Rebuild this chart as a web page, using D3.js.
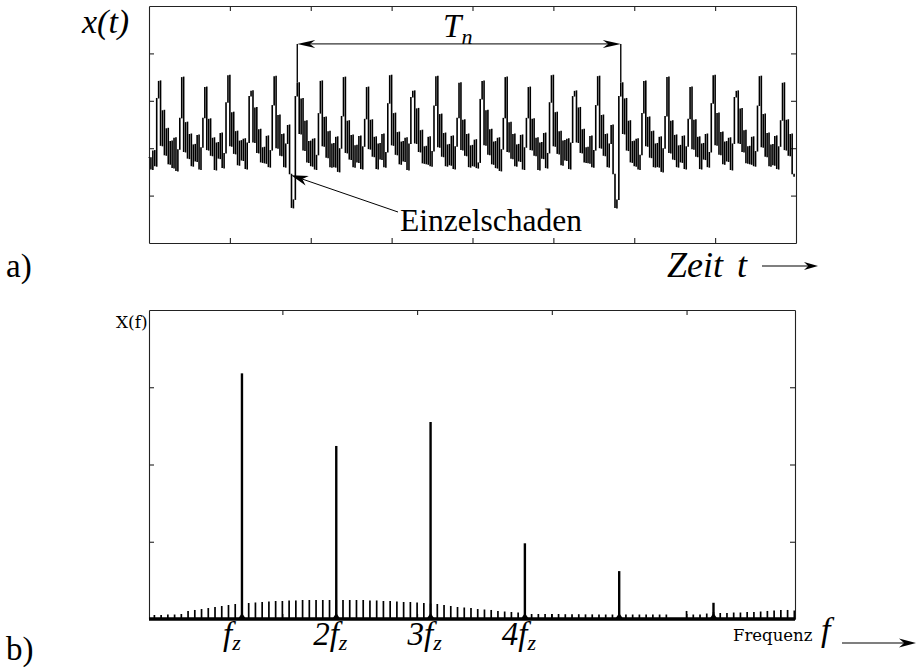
<!DOCTYPE html>
<html>
<head>
<meta charset="utf-8">
<script src="https://cdn.jsdelivr.net/npm/d3@7"></script>
<style>
body { margin: 0; background: #fff; }
</style>
</head>
<body>
<script>
// ---- data ----
// a) time signal, 12 samples per impact period (28 impacts), amplitude in axis units 0..5
let signal = [
	1.80, 1.55, 1.95, 1.62, 3.06, 3.42, 2.05, 2.80, 1.85, 2.42, 1.66, 2.15,
	1.58, 2.22, 1.52, 1.98, 2.64, 3.50, 1.92, 2.55, 1.78, 2.30, 1.62, 2.08,
	1.72, 2.28, 1.55, 2.02, 2.64, 3.29, 1.96, 2.62, 1.84, 2.22, 1.54, 2.12,
	1.78, 2.32, 1.58, 1.90, 2.97, 3.54, 2.04, 2.76, 1.88, 2.36, 1.64, 2.16,
	1.74, 2.20, 1.56, 2.12, 3.10, 3.21, 2.12, 2.86, 1.90, 2.40, 1.70, 2.02,
	1.68, 2.26, 1.60, 1.96, 2.91, 3.52, 2.00, 2.70, 1.84, 2.30, 1.60, 2.10,
	2.49, 1.45, 0.74, 0.92, 3.10, 3.38, 2.30, 3.05, 1.95, 2.58, 1.70, 2.15,
	1.62, 2.20, 1.55, 1.86, 2.74, 3.42, 2.04, 2.66, 1.80, 2.36, 1.60, 2.10,
	1.60, 2.24, 1.50, 2.00, 2.68, 3.50, 1.90, 2.58, 1.76, 2.28, 1.60, 2.06,
	1.70, 2.26, 1.56, 2.04, 2.62, 3.29, 1.98, 2.60, 1.82, 2.24, 1.56, 2.10,
	1.76, 2.30, 1.60, 1.92, 2.95, 3.54, 2.06, 2.74, 1.86, 2.34, 1.66, 2.14,
	1.72, 2.22, 1.54, 2.10, 3.08, 3.21, 2.10, 2.84, 1.92, 2.38, 1.68, 2.04,
	1.66, 2.24, 1.62, 1.94, 2.90, 3.52, 2.02, 2.72, 1.82, 2.32, 1.62, 2.08,
	1.64, 2.26, 1.56, 2.04, 2.64, 3.38, 1.96, 2.60, 1.84, 2.30, 1.60, 2.06,
	1.62, 2.18, 1.58, 1.70, 3.04, 3.42, 2.06, 2.80, 1.86, 2.40, 1.66, 2.14,
	1.58, 2.22, 1.52, 1.98, 2.64, 3.50, 1.92, 2.55, 1.78, 2.30, 1.62, 2.08,
	1.72, 2.28, 1.55, 2.02, 2.64, 3.29, 1.96, 2.62, 1.84, 2.22, 1.54, 2.12,
	1.78, 2.32, 1.58, 1.90, 2.97, 3.54, 2.04, 2.76, 1.88, 2.36, 1.64, 2.16,
	1.74, 2.20, 1.56, 2.12, 3.10, 3.21, 2.12, 2.86, 1.90, 2.40, 1.70, 2.02,
	1.68, 2.26, 1.60, 1.96, 2.91, 3.52, 2.00, 2.70, 1.84, 2.30, 1.60, 2.10,
	2.49, 1.45, 0.74, 0.92, 3.10, 3.38, 2.30, 3.05, 1.95, 2.58, 1.70, 2.15,
	1.62, 2.20, 1.55, 1.86, 2.74, 3.42, 2.04, 2.66, 1.80, 2.36, 1.60, 2.10,
	1.60, 2.24, 1.50, 2.00, 2.68, 3.50, 1.90, 2.58, 1.76, 2.28, 1.60, 2.06,
	1.70, 2.26, 1.56, 2.04, 2.62, 3.29, 1.98, 2.60, 1.82, 2.24, 1.56, 2.10,
	1.76, 2.30, 1.60, 1.92, 2.95, 3.54, 2.06, 2.74, 1.86, 2.34, 1.66, 2.14,
	1.72, 2.22, 1.54, 2.10, 3.08, 3.21, 2.10, 2.84, 1.92, 2.38, 1.68, 2.04,
	1.66, 2.24, 1.62, 1.94, 2.90, 3.52, 2.02, 2.72, 1.82, 2.32, 1.62, 2.08,
	1.64, 2.26, 1.56, 2.04, 2.59, 3.38, 1.96, 2.60, 1.84, 2.30, 1.45, 1.40
];
let tnSamples = [77, 245];      // impacts marked by T_n
let tnLevel = 4.2;              // height of the T_n arrow
let damageSample = 73.8;        // tip of the "Einzelschaden" arrow
let damageLevel = 1.43;

// b) spectrum: comb at multiples of f_n (1..96), harmonics of f_z = 14 f_n
let combMag = [
	0.052, 0.052, 0.058, 0.058, 0.065, 0.104, 0.117, 0.129, 0.142, 0.155, 0.168, 0.181,
	0.194, 0.207, 0.207, 0.214, 0.220, 0.227, 0.233, 0.233, 0.240, 0.240, 0.246, 0.246,
	0.246, 0.246, 0.246, 0.246, 0.246, 0.246, 0.246, 0.246, 0.240, 0.240, 0.233, 0.233,
	0.227, 0.220, 0.220, 0.214, 0.207, 0.200, 0.194, 0.181, 0.168, 0.155, 0.149, 0.142,
	0.129, 0.123, 0.117, 0.104, 0.097, 0.091, 0.084, 0.078, 0.065, 0.065, 0.065, 0.065,
	0.065, 0.062, 0.062, 0.062, 0.060, 0.060, 0.058, 0.058, 0.058, 0.060, 0.058, 0.058,
	0.058, 0.058, 0.058, 0.058, 0.058, 0.000, 0.000, 0.104, 0.058, 0.058, 0.071, 0.090,
	0.078, 0.078, 0.084, 0.084, 0.091, 0.091, 0.097, 0.104, 0.110, 0.117, 0.117, 0.110
];
let harmF = [14, 28, 42, 56, 70, 84];
let harmMag = [3.18, 2.24, 2.55, 0.98, 0.62, 0.21];
let harmLabels = ['', '2', '3', '4'];

let timeTicks = [42, 84, 126, 168, 210, 252, 294];
let ampTicks = [1, 2, 3, 4];
let freqTicks = [20, 40, 60, 80];
let magTicks = [1, 2, 3];

let serif = 'Liberation Serif, Times New Roman, serif';
let serif2 = 'DejaVu Serif, serif';

let svg = d3.select('body').append('svg')
	.attr('width', 917)
	.attr('height', 668);

// arrow head helper (barbed, filled)
function arrowHead(g, x, y, angle, len, half) {
	let c = Math.cos(angle), s = Math.sin(angle);
	let pts = [[0, 0], [-len, -half], [-len * 0.7, 0], [-len, half]];
	g.append('path')
		.attr('d', 'M' + pts.map(function(p) {
			return [x + p[0] * c - p[1] * s, y + p[0] * s + p[1] * c].join(',');
		}).join('L') + 'Z')
		.attr('fill', '#000');
}

// box with inward ticks on four sides
function drawFrame(g, x, y, xt, yt) {
	let r = x.range(), b = y.range();
	g.append('g').attr('transform', 'translate(0,' + b[0] + ')')
		.call(d3.axisBottom(x).tickValues(xt).tickSize(-5).tickSizeOuter(0).tickFormat(''));
	g.append('g').attr('transform', 'translate(0,' + b[1] + ')')
		.call(d3.axisTop(x).tickValues(xt).tickSize(-5).tickSizeOuter(0).tickFormat(''));
	g.append('g').attr('transform', 'translate(' + r[0] + ',0)')
		.call(d3.axisLeft(y).tickValues(yt).tickSize(-5).tickSizeOuter(0).tickFormat(''));
	g.append('g').attr('transform', 'translate(' + r[1] + ',0)')
		.call(d3.axisRight(y).tickValues(yt).tickSize(-5).tickSizeOuter(0).tickFormat(''));
	g.selectAll('.domain, .tick line').attr('stroke', '#222').attr('stroke-width', 1.1);
}

///// a) time signal /////
let xT = d3.scaleLinear().domain([0, 336]).range([149, 796]);
let yT = d3.scaleLinear().domain([0, 5]).range([243, 6]);

let topG = svg.append('g');
drawFrame(topG, xT, yT, timeTicks, ampTicks);

// signal drawn as vertical strokes from the previous sample to the current one
topG.append('g')
	.selectAll('line')
	.data(signal)
	.enter()
	.append('line')
	.attr('x1', function(d, i) { return xT(i); })
	.attr('x2', function(d, i) { return xT(i); })
	.attr('y1', function(d, i) { return yT(i > 0 ? signal[i - 1] : d) + (i > 0 && signal[i - 1] < d ? 0.5 : -0.5); })
	.attr('y2', function(d) { return yT(d); })
	.attr('stroke', '#000')
	.attr('stroke-width', 1.6);

// T_n marker
tnSamples.forEach(function(s) {
	topG.append('line')
		.attr('x1', xT(s)).attr('x2', xT(s))
		.attr('y1', yT(tnLevel)).attr('y2', yT(signal[s]))
		.attr('stroke', '#000').attr('stroke-width', 1.35);
});
topG.append('line')
	.attr('x1', xT(tnSamples[0]) + 6).attr('x2', xT(tnSamples[1]) - 6)
	.attr('y1', yT(tnLevel)).attr('y2', yT(tnLevel))
	.attr('stroke', '#000').attr('stroke-width', 1);
arrowHead(topG, xT(tnSamples[0]), yT(tnLevel), Math.PI, 18, 4);
arrowHead(topG, xT(tnSamples[1]), yT(tnLevel), 0, 18, 4);

let tnX = xT((tnSamples[0] + tnSamples[1]) / 2) - 16;
let tn = topG.append('text')
	.attr('x', tnX).attr('y', 37)
	.attr('font-family', serif).attr('font-style', 'italic')
	.attr('font-size', 33);
tn.append('tspan').text('T');
tn.append('tspan').attr('font-size', 22).attr('dy', 7).text('n');

// Einzelschaden annotation
let ax = xT(damageSample), ay = yT(damageLevel);
let tx = 398, ty = 212;
topG.append('line')
	.attr('x1', ax + 10).attr('y1', ay + 10 * (ty - ay) / (tx - ax))
	.attr('x2', tx).attr('y2', ty)
	.attr('stroke', '#000').attr('stroke-width', 1);
arrowHead(topG, ax, ay, Math.atan2(ay - ty, ax - tx), 17, 5);

topG.append('text')
	.attr('x', 400).attr('y', 231)
	.attr('font-family', serif).attr('font-size', 31.5)
	.text('Einzelschaden');

topG.append('text')
	.attr('x', 82).attr('y', 33)
	.attr('font-family', serif).attr('font-style', 'italic').attr('font-size', 34)
	.text('x(t)');

topG.append('text')
	.attr('x', 6).attr('y', 277)
	.attr('font-family', serif).attr('font-size', 33)
	.text('a)');

let zt = topG.append('text')
	.attr('x', 667).attr('y', 277)
	.attr('font-family', serif).attr('font-style', 'italic').attr('font-size', 36);
zt.append('tspan').text('Zeit');
zt.append('tspan').attr('dx', 14).text('t');
topG.append('line')
	.attr('x1', 762).attr('x2', 810).attr('y1', 266).attr('y2', 266)
	.attr('stroke', '#000').attr('stroke-width', 1.2);
arrowHead(topG, 818, 266, 0, 14, 4);

///// b) spectrum /////
let xF = d3.scaleLinear().domain([0.2, 96.1]).range([149, 795]);
let yF = d3.scaleLinear().domain([0, 4]).range([619, 310]);

let botG = svg.append('g');
drawFrame(botG, xF, yF, freqTicks, magTicks);

botG.selectAll('.comb')
	.data(combMag)
	.enter()
	.append('line')
	.attr('class', 'comb')
	.attr('x1', function(d, i) { return xF(i + 1); })
	.attr('x2', function(d, i) { return xF(i + 1); })
	.attr('y1', yF(0))
	.attr('y2', function(d) { return yF(d); })
	.attr('stroke', '#000')
	.attr('stroke-width', 1.7);

botG.selectAll('.harm')
	.data(harmF)
	.enter()
	.append('line')
	.attr('class', 'harm')
	.attr('x1', function(d) { return xF(d); })
	.attr('x2', function(d) { return xF(d); })
	.attr('y1', yF(0))
	.attr('y2', function(d, i) { return yF(harmMag[i]); })
	.attr('stroke', '#000')
	.attr('stroke-width', 2.4);

// small base mound at each harmonic
botG.selectAll('.mound')
	.data(harmF)
	.enter()
	.append('path')
	.attr('d', function(d) {
		let x = xF(d), y = yF(0);
		return 'M' + (x - 4) + ',' + y + 'L' + x + ',' + (y - 6) + 'L' + (x + 4) + ',' + y + 'Z';
	})
	.attr('fill', '#000');

// thick baseline
botG.append('line')
	.attr('x1', xF.range()[0]).attr('x2', xF.range()[1])
	.attr('y1', yF(0)).attr('y2', yF(0))
	.attr('stroke', '#000').attr('stroke-width', 3.5);

// harmonic labels
harmLabels.forEach(function(p, i) {
	let t = botG.append('text')
		.attr('x', xF(harmF[i]) - (i == 0 ? 10 : 6)).attr('y', 645)
		.attr('text-anchor', 'middle')
		.attr('font-family', serif).attr('font-style', 'italic')
		.attr('font-size', 33);
	t.append('tspan').text(p + 'f');
	t.append('tspan').attr('font-size', 22).attr('dy', 5).text('z');
});

botG.append('text')
	.attr('x', 116).attr('y', 328)
	.attr('font-family', serif2).attr('font-size', 17)
	.text('X(f)');

botG.append('text')
	.attr('x', 733).attr('y', 641)
	.attr('font-family', serif2).attr('font-size', 16.5)
	.text('Frequenz');

botG.append('text')
	.attr('x', 821).attr('y', 641)
	.attr('font-family', serif).attr('font-style', 'italic').attr('font-size', 34)
	.text('f');
botG.append('line')
	.attr('x1', 842).attr('x2', 905).attr('y1', 643).attr('y2', 643)
	.attr('stroke', '#000').attr('stroke-width', 1.2);
arrowHead(botG, 916, 643, 0, 17, 4.5);

botG.append('text')
	.attr('x', 6).attr('y', 660)
	.attr('font-family', serif).attr('font-size', 33)
	.text('b)');
</script>
</body>
</html>
